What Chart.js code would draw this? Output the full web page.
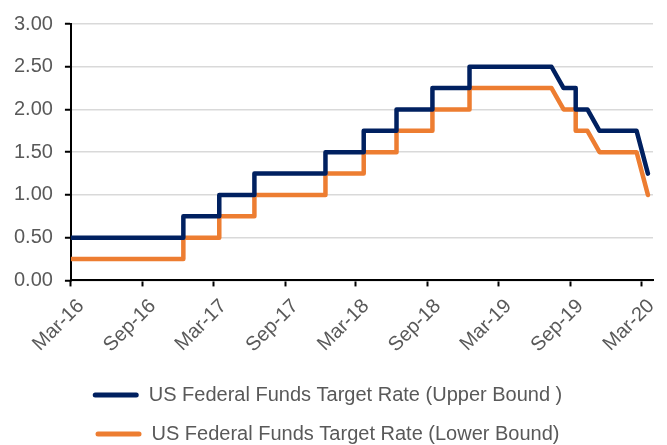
<!DOCTYPE html>
<html>
<head>
<meta charset="utf-8">
<script src="https://cdn.jsdelivr.net/npm/chart.js@4.4.1/dist/chart.umd.min.js"></script>
<style>
  html, body { margin: 0; padding: 0; background: #fff; }
  #wrap { width: 667px; height: 445px; }
</style>
</head>
<body>
<div id="wrap"><canvas id="fedChart" width="667" height="445"></canvas></div>
<script>
// Fed funds target range, points where the line turns
const dates = [
  '2016-03-01', '2016-12-14', '2016-12-14', '2017-03-16', '2017-03-16',
  '2017-06-14', '2017-06-14', '2017-12-13', '2017-12-13', '2018-03-21',
  '2018-03-21', '2018-06-13', '2018-06-13', '2018-09-13', '2018-09-13',
  '2018-12-17', '2018-12-17', '2019-07-15', '2019-08-15', '2019-09-15',
  '2019-09-15', '2019-10-15', '2019-11-15', '2020-02-18', '2020-03-18'
];
const upper = [
  0.50, 0.50, 0.75, 0.75, 1.00,
  1.00, 1.25, 1.25, 1.50, 1.50,
  1.75, 1.75, 2.00, 2.00, 2.25,
  2.25, 2.50, 2.50, 2.25, 2.25,
  2.00, 2.00, 1.75, 1.75, 1.25
];
const lower = [
  0.25, 0.25, 0.50, 0.50, 0.75,
  0.75, 1.00, 1.00, 1.25, 1.25,
  1.50, 1.50, 1.75, 1.75, 2.00,
  2.00, 2.25, 2.25, 2.00, 2.00,
  1.75, 1.75, 1.50, 1.50, 1.00
];
const tickDates = ['2016-03-01', '2016-09-01', '2017-03-01', '2017-09-01', '2018-03-01',
                   '2018-09-01', '2019-03-01', '2019-09-01', '2020-03-01'];
const tickLabels = ['Mar-16', 'Sep-16', 'Mar-17', 'Sep-17', 'Mar-18',
                    'Sep-18', 'Mar-19', 'Sep-19', 'Mar-20'];
const seriesNames = ['US Federal Funds Target Rate (Upper Bound )',
                     'US Federal Funds Target Rate (Lower Bound)'];

const startDay = Date.UTC(2016, 2, 1);
function dayIndex(s) {
  const p = s.split('-');
  return (Date.UTC(+p[0], +p[1] - 1, +p[2]) - startDay) / 86400000;
}
function toPoints(values) {
  return values.map((v, i) => ({ x: dayIndex(dates[i]), y: v }));
}

const textColor = '#595959';
const font = { family: '"Liberation Sans", Arial, sans-serif', size: 20 };

new Chart(document.getElementById('fedChart'), {
  type: 'line',
  data: {
    datasets: [{
      label: seriesNames[0],
      data: toPoints(upper),
      borderColor: '#002060',
      backgroundColor: '#002060',
      borderWidth: 4.5,
      borderJoinStyle: 'round',
      borderCapStyle: 'round',
      pointRadius: 0,
      fill: false
    }, {
      label: seriesNames[1],
      data: toPoints(lower),
      borderColor: '#ED7D31',
      backgroundColor: '#ED7D31',
      borderWidth: 4.5,
      borderJoinStyle: 'round',
      borderCapStyle: 'round',
      pointRadius: 0,
      fill: false
    }]
  },
  options: {
    responsive: false,
    animation: false,
    layout: { padding: { left: 2, right: 14, top: 9, bottom: -9 } },
    plugins: {
      tooltip: { enabled: false },
      legend: {
        position: 'bottom',
        labels: {
          color: textColor,
          font: font,
          boxWidth: 46,
          boxHeight: 5,
          useBorderRadius: true,
          borderRadius: 2.5,
          padding: 19,
          generateLabels: chart => Chart.defaults.plugins.legend.labels.generateLabels(chart)
            .map(item => Object.assign(item, { lineWidth: 0 }))
        }
      }
    },
    scales: {
      x: {
        type: 'linear',
        min: 0,
        max: dayIndex('2020-03-31'),
        afterBuildTicks: axis => {
          axis.ticks = tickDates.map(d => ({ value: dayIndex(d) }));
        },
        afterFit: axis => {
          axis.height += 1;
        },
        ticks: {
          color: textColor,
          font: font,
          minRotation: 45,
          maxRotation: 45,
          padding: 8,
          labelOffset: 10,
          callback: (value, index) => tickLabels[index]
        },
        grid: { drawOnChartArea: false, drawTicks: true, tickLength: 6, tickColor: '#000', tickWidth: 2 },
        border: { color: '#000', width: 2 }
      },
      y: {
        min: 0,
        max: 3,
        ticks: {
          stepSize: 0.5,
          color: textColor,
          font: font,
          padding: 12,
          callback: v => v.toFixed(2)
        },
        grid: { color: '#d9d9d9', lineWidth: 1.5, tickLength: 6, tickColor: '#000', tickWidth: 2 },
        border: { color: '#000', width: 2 }
      }
    }
  }
});
</script>
</body>
</html>
